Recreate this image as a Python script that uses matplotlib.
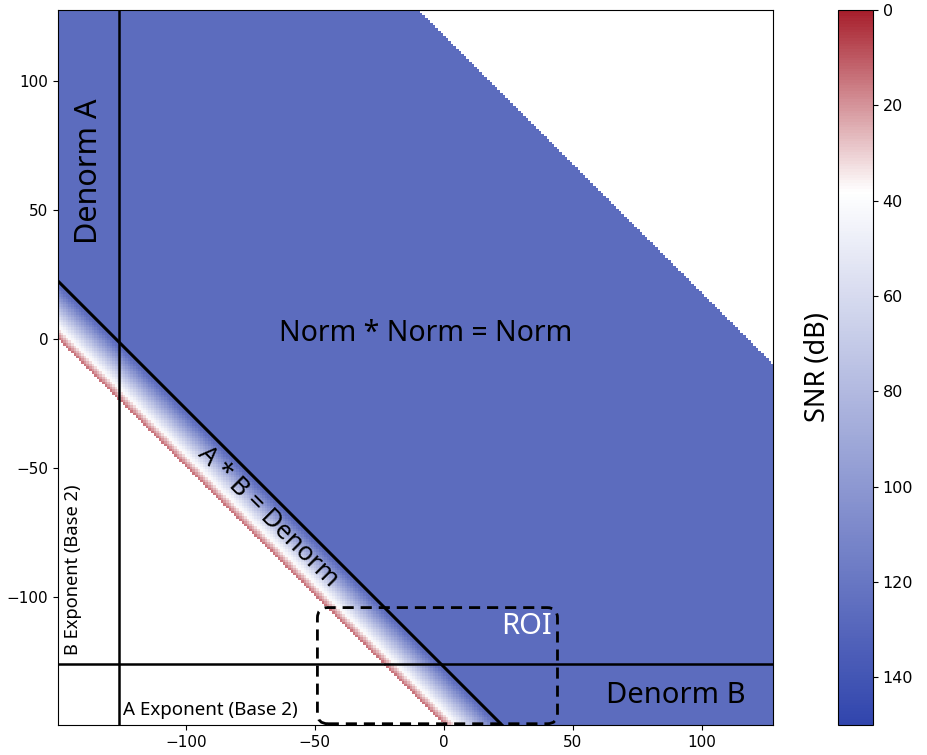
import numpy as np
import matplotlib
matplotlib.use('Agg')
import matplotlib.pyplot as plt
from matplotlib.colors import LinearSegmentedColormap
from matplotlib.patches import FancyBboxPatch

# --- Data ---
a_exp = np.arange(-149, 128)   # A exponent (base 2)
b_exp = np.arange(-149, 128)   # B exponent (base 2)

# SNR (dB) of the subnormal product, for exponent sums -149 .. -127
sub_sums = list(range(-149, -126))
sub_snr = [15, 21, 26, 32, 37, 43, 48, 54, 59, 65, 70, 76, 81, 87, 92,
           98, 103, 109, 114, 120, 124, 126, 126]
normal_snr = 126          # SNR for a normal result
min_normal_sum = -127     # smallest normal product exponent
max_sum = 117             # largest exponent sum before overflow
min_normal_exp = -126     # smallest normal input exponent

# --- Build grid ---
A, B = np.meshgrid(a_exp, b_exp)
S = A + B
snr = np.full(S.shape, np.nan)
snr[(S >= min_normal_sum) & (S <= max_sum)] = normal_snr
for s, v in zip(sub_sums, sub_snr):
    snr[S == s] = v

cmap = LinearSegmentedColormap.from_list(
    'snr', [(0.0, '#a71f2c'), (38 / 150, '#ffffff'), (1.0, '#3145ad')])

fig = plt.figure(figsize=(9.28, 7.55), dpi=100)
ax = fig.add_axes([0.0625, 0.0397, 0.7705, 0.947])
cax = fig.add_axes([0.903, 0.0397, 0.0377, 0.947])

im = ax.imshow(snr, origin='lower', cmap=cmap, vmin=0, vmax=150,
               extent=[a_exp[0] - 0.5, a_exp[-1] + 0.5, b_exp[0] - 0.5, b_exp[-1] + 0.5],
               interpolation='nearest', aspect='auto')

# boundary lines
ax.axvline(min_normal_exp, color='black', lw=1.8)
ax.axhline(min_normal_exp, color='black', lw=1.8)
xd = np.array([a_exp[0] - 0.5, min_normal_sum - b_exp[0] + 0.5])
ax.plot(xd, min_normal_sum - xd, color='black', lw=2.2)

# ROI box
roi = FancyBboxPatch((-49, -149), 93, 45, boxstyle='round,pad=0,rounding_size=4',
                     fill=False, ls=(0, (4, 2.5)), lw=2, ec='black')
ax.add_patch(roi)

tf = ['Noto Sans', 'DejaVu Sans']
ax.text(-137.5, 65, 'Denorm A', rotation=90, fontsize=22, ha='center', va='center', family=tf)
ax.text(-7, 2, 'Norm * Norm = Norm', fontsize=20.5, ha='center', va='center', family=tf)
ax.text(-68, -69, 'A * B = Denorm', rotation=-45, fontsize=18.5, ha='center', va='center',
        rotation_mode='anchor', family=tf)
ax.text(32, -111.5, 'ROI', fontsize=21, color='white', ha='center', va='center', family=tf)
ax.text(90, -138, 'Denorm B', fontsize=21, ha='center', va='center', family=tf)
ax.text(-143.8, -89.5, 'B Exponent (Base 2)', rotation=90, fontsize=13.2, ha='center',
        va='center', family=tf)
ax.text(-124.5, -143.8, 'A Exponent (Base 2)', fontsize=13.5, ha='left', va='center', family=tf)

ax.set_xlim(a_exp[0] - 0.5, a_exp[-1] + 0.5)
ax.set_ylim(b_exp[0] - 0.5, b_exp[-1] + 0.5)
ax.set_xticks([-100, -50, 0, 50, 100])
ax.set_yticks([-100, -50, 0, 50, 100])
ax.tick_params(labelsize=11)

cbar = fig.colorbar(im, cax=cax)
cbar.set_ticks(range(0, 150, 20))
cbar.ax.invert_yaxis()
cbar.ax.tick_params(labelsize=11.5)
cbar.ax.yaxis.set_label_position('left')
cbar.set_label('SNR (dB)', fontsize=19.5, family=tf, labelpad=4)

plt.savefig('out.png', dpi=100)
